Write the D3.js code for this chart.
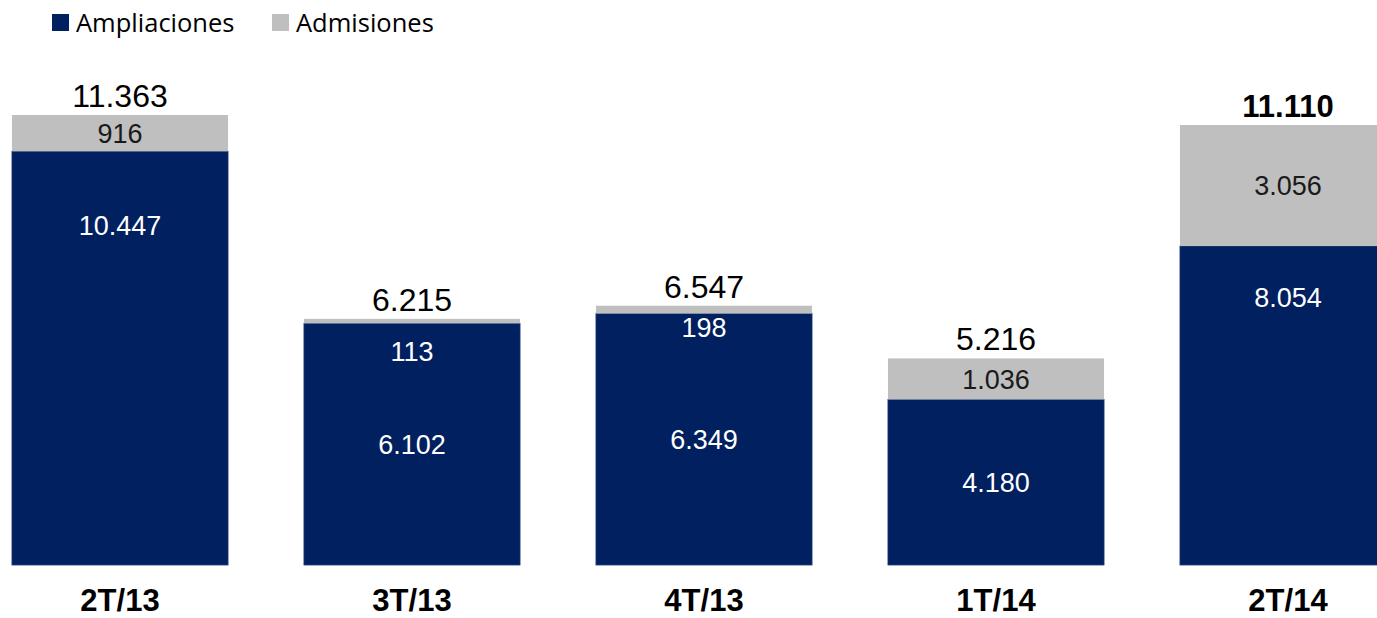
<!DOCTYPE html>
<html>
<head>
<meta charset="utf-8">
<script src="https://cdn.jsdelivr.net/npm/d3@7"></script>
<style>
  body { margin: 0; background: #fff; }
  svg { display: block; }
</style>
</head>
<body>
<script>
var categories = ["2T/13", "3T/13", "4T/13", "1T/14", "2T/14"];
var ampliaciones = [10447, 6102, 6349, 4180, 8054];
var admisiones = [916, 113, 198, 1036, 3056];
var totals = [11363, 6215, 6547, 5216, 11110];
var seriesNames = ["Ampliaciones", "Admisiones"];

var w = 1377;
var h = 618;
var base = 565;
var colours = ["#002060", "#BFBFBF"];
// where the Ampliaciones label sits, as a share of the segment (0.5 = middle)
var ampLabelAt = [0.82, 0.5, 0.5, 0.5, 0.84];

var svg = d3.select("body")
  .append("svg")
  .attr("width", w)
  .attr("height", h);

var xScale = d3.scaleBand()
  .domain(categories)
  .range([-26, 1434])
  .paddingInner(0.26)
  .paddingOuter(0.13);

var yScale = d3.scaleLinear()
  .domain([0, d3.max(totals)])
  .range([base, 115]);

var fmt = function(v) {
  return d3.format(",")(v).replace(/,/g, ".");
};

var rows = categories.map(function(c, i) {
  return { cat: c, amp: ampliaciones[i], adm: admisiones[i], total: totals[i], i: i };
});

var g = svg.selectAll("g.bar")
  .data(rows)
  .enter()
  .append("g")
  .attr("class", "bar");

// Ampliaciones
g.append("rect")
  .attr("x", function(d) { return xScale(d.cat); })
  .attr("width", xScale.bandwidth())
  .attr("y", function(d) { return yScale(d.amp); })
  .attr("height", function(d) { return base - yScale(d.amp); })
  .attr("fill", colours[0])
  .attr("stroke", "#1c3a78")
  .attr("stroke-width", 0.8);

// Admisiones
g.append("rect")
  .attr("x", function(d) { return xScale(d.cat); })
  .attr("width", xScale.bandwidth())
  .attr("y", function(d) { return yScale(d.amp + d.adm); })
  .attr("height", function(d) { return yScale(d.amp) - yScale(d.amp + d.adm); })
  .attr("fill", colours[1]);

var cx = function(d) { return xScale(d.cat) + xScale.bandwidth() / 2; };

// Ampliaciones labels
g.append("text")
  .attr("x", cx)
  .attr("y", function(d) { return yScale(d.amp * ampLabelAt[d.i]); })
  .attr("dy", "0.36em")
  .attr("text-anchor", "middle")
  .attr("font-family", "'Liberation Sans', Arial, sans-serif")
  .attr("font-size", 27)
  .attr("fill", "#fff")
  .text(function(d) { return fmt(d.amp); });

// Admisiones labels (small ones go just under the top, on the blue)
g.append("text")
  .attr("x", cx)
  .attr("y", function(d) {
    var top = yScale(d.amp + d.adm);
    var hgt = yScale(d.amp) - top;
    if (hgt < 30) return top + (d.adm < 150 ? 32 : 22);
    return top + hgt / 2;
  })
  .attr("dy", "0.36em")
  .attr("text-anchor", "middle")
  .attr("font-family", "'Liberation Sans', Arial, sans-serif")
  .attr("font-size", 27)
  .attr("fill", function(d) {
    return (yScale(d.amp) - yScale(d.amp + d.adm)) < 30 ? "#fff" : "#1a1a1a";
  })
  .text(function(d) { return fmt(d.adm); });

// totals
g.append("text")
  .attr("x", cx)
  .attr("y", function(d) { return yScale(d.total) - 8; })
  .attr("text-anchor", "middle")
  .attr("font-family", "'Liberation Sans', Arial, sans-serif")
  .attr("font-size", function(d) { return d.i === 4 ? 31 : 32; })
  .attr("font-weight", function(d) { return d.i === 4 ? "bold" : "normal"; })
  .attr("fill", "#000")
  .text(function(d) { return fmt(d.total); });

// category axis
var xAxis = d3.axisBottom(xScale).tickSize(0).tickPadding(0);
var ax = svg.append("g")
  .attr("transform", "translate(0," + base + ")")
  .call(xAxis);
ax.select(".domain").remove();
ax.selectAll("text")
  .attr("y", 46)
  .attr("dy", 0)
  .attr("font-family", "'Liberation Sans', Arial, sans-serif")
  .attr("font-size", 31)
  .attr("font-weight", "bold")
  .attr("fill", "#000");

// legend
var legend = svg.append("g").attr("transform", "translate(52,0)");
var legX = [0, 220];
seriesNames.forEach(function(name, i) {
  var item = legend.append("g").attr("transform", "translate(" + legX[i] + ",0)");
  item.append("rect")
    .attr("x", 0)
    .attr("y", 14)
    .attr("width", 17)
    .attr("height", 17)
    .attr("fill", colours[i]);
  item.append("text")
    .attr("x", 24)
    .attr("y", 32)
    .attr("font-family", "'Open Sans', sans-serif")
    .attr("font-size", 25.5)
    .attr("fill", "#000")
    .text(name);
});
</script>
</body>
</html>
